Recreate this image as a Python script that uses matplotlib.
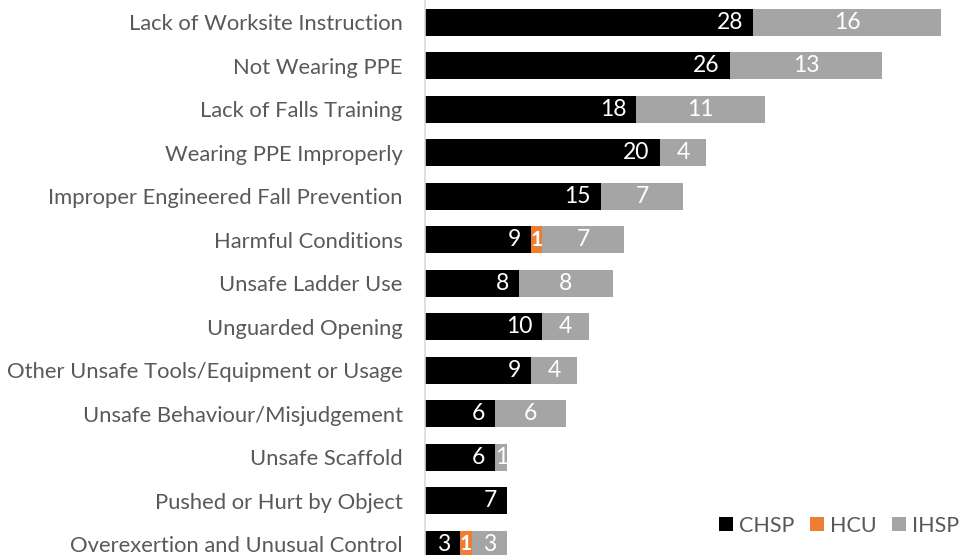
import matplotlib.pyplot as plt
import numpy as np

categories = [
    'Lack of Worksite Instruction',
    'Not Wearing PPE',
    'Lack of Falls Training',
    'Wearing PPE Improperly',
    'Improper Engineered Fall Prevention',
    'Harmful Conditions',
    'Unsafe Ladder Use',
    'Unguarded Opening',
    'Other Unsafe Tools/Equipment or Usage',
    'Unsafe Behaviour/Misjudgement',
    'Unsafe Scaffold',
    'Pushed or Hurt by Object',
    'Overexertion and Unusual Control',
]
chsp = [28, 26, 18, 20, 15, 9, 8, 10, 9, 6, 6, 7, 3]
hcu = [0, 0, 0, 0, 0, 1, 0, 0, 0, 0, 0, 0, 1]
ihsp = [16, 13, 11, 4, 7, 7, 8, 4, 4, 6, 1, 0, 3]

series_names = ['CHSP', 'HCU', 'IHSP']
colors = ['#000000', '#ED7D31', '#A5A5A5']

plt.rcParams['font.family'] = ['Lato', 'DejaVu Sans']

fig = plt.figure(figsize=(9.61, 5.55), dpi=100)
ax = fig.add_axes([425 / 961, 0, (961 - 425) / 961, 1])

y = np.arange(len(categories))
chsp = np.array(chsp)
hcu = np.array(hcu)
ihsp = np.array(ihsp)

h = 0.62
ax.barh(y, chsp, height=h, color=colors[0], label=series_names[0])
ax.barh(y, hcu, left=chsp, height=h, color=colors[1], label=series_names[1])
ax.barh(y, ihsp, left=chsp + hcu, height=h, color=colors[2], label=series_names[2])

for i in range(len(categories)):
    if chsp[i] > 0:
        ax.text(chsp[i] - 0.85, y[i], str(chsp[i]), ha='right', va='center',
                color='white', fontsize=16.5)
    if hcu[i] > 0:
        ax.text(chsp[i] + hcu[i] / 2, y[i], str(hcu[i]), ha='center', va='center',
                color='white', fontsize=15, fontweight='bold')
    if ihsp[i] > 0:
        ax.text(chsp[i] + hcu[i] + ihsp[i] / 2, y[i], str(ihsp[i]), ha='center',
                va='center', color='white', fontsize=16.5)

ax.set_xlim(0, 45.7)
ax.set_ylim(12.25, -0.506)
ax.set_yticks(y)
ax.set_yticklabels(categories, fontsize=15.8, color='#595959')
ax.tick_params(axis='y', length=0, pad=16)
ax.set_xticks([])
for s in ['top', 'right', 'bottom']:
    ax.spines[s].set_visible(False)
ax.spines['left'].set_color('#D9D9D9')
ax.spines['left'].set_linewidth(1.2)

leg = ax.legend(loc='lower right', bbox_to_anchor=(1.032, 0.0), ncol=3, frameon=False,
                fontsize=15.5, handlelength=0.65, handleheight=0.65,
                handletextpad=0.25, columnspacing=0.75)
for t in leg.get_texts():
    t.set_color('#595959')

fig.savefig('out.png', dpi=100)
